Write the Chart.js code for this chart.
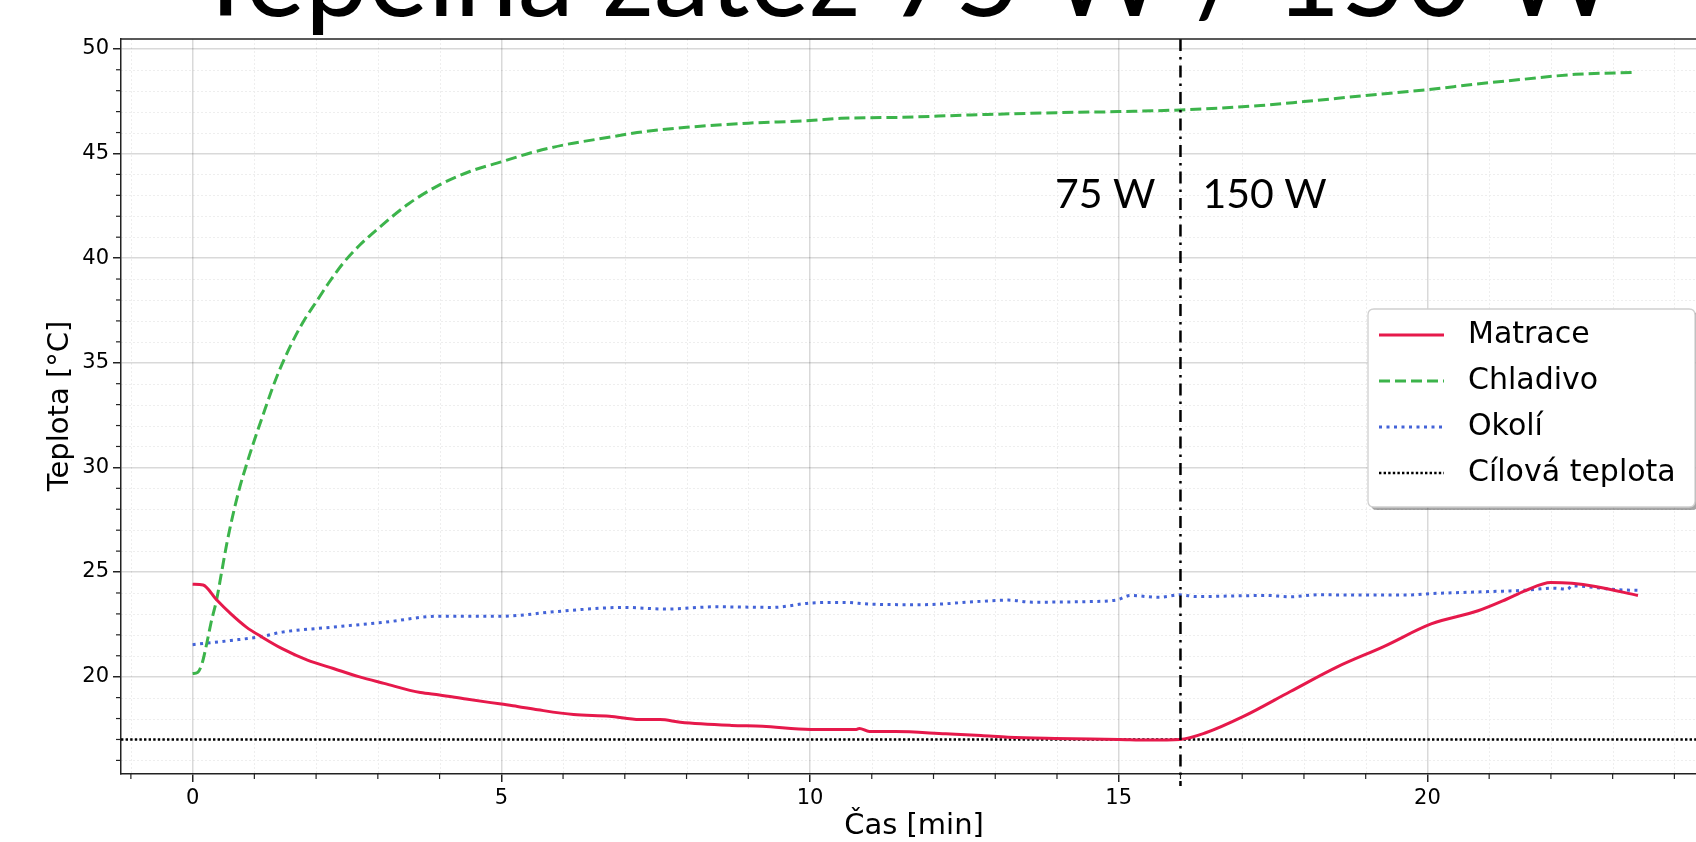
<!DOCTYPE html>
<html><head><meta charset="utf-8">
<script src="https://cdn.jsdelivr.net/npm/chart.js@4.4.1/dist/chart.umd.min.js"></script>
<style>html,body{margin:0;padding:0;background:#fff;overflow:hidden}canvas{display:block}</style>
</head><body>
<canvas id="c" width="1696" height="842"></canvas>
<script>
// ---------- data ----------
const matraceT = [0, 0.17, 0.38, 0.62, 0.87, 1.12, 1.45, 1.86, 2.28, 2.69, 3.1, 3.69, 4.0, 4.43, 5.0, 5.26, 5.59, 6.17, 6.75, 7.24, 7.57, 7.9, 8.73, 9.23, 10.01, 10.75, 10.8, 10.96, 11.38, 12.2, 12.77, 13.21, 13.97, 15.0, 15.49, 15.99, 16.41, 17.02, 17.78, 18.54, 19.3, 20.06, 20.82, 21.28, 21.58, 22.0, 22.34, 22.72, 23.41];
const matraceV = [24.42, 24.38, 23.7, 23.0, 22.37, 21.9, 21.34, 20.79, 20.39, 20.0, 19.68, 19.24, 19.13, 18.93, 18.69, 18.58, 18.42, 18.19, 18.11, 17.95, 17.95, 17.82, 17.67, 17.63, 17.48, 17.48, 17.53, 17.38, 17.38, 17.27, 17.19, 17.11, 17.05, 17.0, 16.97, 17.0, 17.32, 18.1, 19.29, 20.47, 21.45, 22.52, 23.15, 23.7, 24.1, 24.5, 24.46, 24.31, 23.88];

const chladivoT = [0, 0.08, 0.15, 0.23, 0.30, 0.39, 0.47, 0.55, 0.62, 0.75, 0.88, 1.00, 1.14, 1.27, 1.40, 1.60, 1.80, 2.00, 2.20, 2.45, 2.70, 3.00, 3.50, 4.00, 4.50, 5.00, 5.50, 6.00, 6.80, 7.20, 8.00, 9.00, 10.0, 10.5, 11.5, 12.6, 14.0, 15.0, 16.0, 17.3, 18.0, 19.0, 20.0, 20.8, 21.5, 22.4, 23.35];
const chladivoV = [20.15, 20.2, 20.6, 21.6, 22.6, 23.7, 25.0, 26.3, 27.3, 28.9, 30.2, 31.3, 32.5, 33.6, 34.6, 35.9, 37.0, 37.9, 38.8, 39.8, 40.6, 41.4, 42.6, 43.5, 44.15, 44.6, 45.05, 45.4, 45.8, 46.0, 46.25, 46.45, 46.57, 46.68, 46.73, 46.84, 46.95, 47.0, 47.08, 47.29, 47.48, 47.77, 48.05, 48.32, 48.53, 48.78, 48.87];

const okoliT = [0, 0.62, 1.12, 1.45, 2.28, 3.1, 4.0, 5.0, 5.92, 6.99, 7.66, 8.48, 9.39, 10.01, 10.55, 10.96, 11.79, 12.77, 13.21, 13.6, 14.35, 14.96, 15.19, 15.65, 15.99, 16.26, 17.4, 17.78, 18.23, 19.68, 20.06, 20.82, 21.58, 22.04, 22.27, 22.34, 23.1, 23.41];
const okoliV = [21.53, 21.73, 21.92, 22.13, 22.37, 22.6, 22.89, 22.89, 23.12, 23.31, 23.23, 23.34, 23.31, 23.52, 23.55, 23.47, 23.44, 23.6, 23.66, 23.56, 23.58, 23.66, 23.88, 23.79, 23.91, 23.83, 23.88, 23.82, 23.91, 23.9, 23.97, 24.05, 24.13, 24.23, 24.18, 24.34, 24.15, 24.13];

const cilovaTeplota = 17;
const zmenaVykonu = 16;           // min, switch 75 W -> 150 W
const xTicks = [0, 5, 10, 15, 20];
const yTicks = [20, 25, 30, 35, 40, 45, 50];
const seriesNames = ['Matrace', 'Chladivo', 'Okolí', 'Cílová teplota'];
const titleText = 'Tepelná zátěž 75 W / 150 W';
const leftNote = '75 W';
const rightNote = '150 W';
const xTitle = 'Čas [min]';
const yTitle = 'Teplota [°C]';

// ---------- axis limits ----------
const X_MIN = -1.16, X_MAX = 24.35;
const Y_MIN = 15.35, Y_MAX = 50.47;

const pts = (t, v) => t.map((x, i) => ({x: x, y: v[i]}));

const styles = [
  {color: '#e6194b', width: 3.0, dash: []},
  {color: '#3cb44b', width: 3.0, dash: [11, 5]},
  {color: '#4363d8', width: 3.0, dash: [3, 4.5]},
  {color: '#000000', width: 2.6, dash: [2.4, 2.2]}
];

const datasets = [
  {label: seriesNames[0], data: pts(matraceT, matraceV)},
  {label: seriesNames[1], data: pts(chladivoT, chladivoV)},
  {label: seriesNames[2], data: pts(okoliT, okoliV)},
  {label: seriesNames[3], data: pts([X_MIN, X_MAX], [cilovaTeplota, cilovaTeplota])}
].map((d, i) => Object.assign(d, {
  borderColor: styles[i].color,
  borderWidth: styles[i].width,
  borderDash: styles[i].dash,
  borderCapStyle: 'butt',
  borderJoinStyle: 'round',
  pointRadius: 0,
  cubicInterpolationMode: 'monotone',
  fill: false,
  showLine: true,
  order: i
}));

const SPINE = '#222222';

const overlay = {
  id: 'overlay',
  beforeDraw(chart) {
    const {ctx, chartArea: a, scales: {x, y}} = chart;
    ctx.save();
    // minor grid
    ctx.strokeStyle = '#eeeeee';
    ctx.lineWidth = 1;
    ctx.setLineDash([2, 2]);
    for (let v = Math.ceil(X_MIN); v <= X_MAX; v++) {
      if (v % 5 === 0) continue;
      const px = Math.round(x.getPixelForValue(v)) + 0.5;
      ctx.beginPath(); ctx.moveTo(px, a.top); ctx.lineTo(px, a.bottom); ctx.stroke();
    }
    for (let v = Math.ceil(Y_MIN); v <= Y_MAX; v++) {
      if (v % 5 === 0) continue;
      const py = Math.round(y.getPixelForValue(v)) + 0.5;
      ctx.beginPath(); ctx.moveTo(a.left, py); ctx.lineTo(a.right, py); ctx.stroke();
    }
    ctx.restore();
  },
  afterDatasetsDraw(chart) {
    const {ctx, chartArea: a, scales: {x, y}} = chart;
    ctx.save();
    // vertical dash-dot line at power switch
    const px = x.getPixelForValue(zmenaVykonu);
    ctx.strokeStyle = '#000';
    ctx.lineWidth = 2.5;
    ctx.setLineDash([12, 6, 2.5, 6]);
    ctx.beginPath(); ctx.moveTo(px, a.top); ctx.lineTo(px, a.bottom + 12); ctx.stroke();
    ctx.setLineDash([]);
    // annotations
    ctx.fillStyle = '#000';
    ctx.font = '41px Lato';
    ctx.textBaseline = 'alphabetic';
    ctx.textAlign = 'right';
    ctx.fillText(leftNote, px - 25, 208);
    ctx.textAlign = 'left';
    ctx.fillText(rightNote, px + 22, 208);
    ctx.restore();
  },
  afterDraw(chart) {
    const {ctx, chartArea: a, scales: {x, y}} = chart;
    ctx.save();
    // top spine
    ctx.strokeStyle = SPINE; ctx.lineWidth = 1.5;
    ctx.beginPath(); ctx.moveTo(a.left, a.top); ctx.lineTo(a.right, a.top); ctx.stroke();
    // minor ticks
    ctx.lineWidth = 1.2;
    for (let v = Math.ceil(X_MIN); v <= X_MAX; v++) {
      if (v % 5 === 0) continue;
      const p = x.getPixelForValue(v);
      ctx.beginPath(); ctx.moveTo(p, a.bottom); ctx.lineTo(p, a.bottom + 5); ctx.stroke();
    }
    for (let v = Math.ceil(Y_MIN); v <= Y_MAX; v++) {
      if (v % 5 === 0) continue;
      const p = y.getPixelForValue(v);
      ctx.beginPath(); ctx.moveTo(a.left, p); ctx.lineTo(a.left - 5, p); ctx.stroke();
    }
    // axis titles
    ctx.fillStyle = '#000';
    ctx.font = '29px "DejaVu Sans"';
    ctx.textAlign = 'center'; ctx.textBaseline = 'middle';
    ctx.fillText(xTitle, 914, 826);
    ctx.save();
    ctx.translate(60, 406); ctx.rotate(-Math.PI / 2);
    ctx.fillText(yTitle, 0, 0);
    ctx.restore();
    // title (cropped at top)
    let fs = 100;
    ctx.font = fs + 'px Lato';
    const w = ctx.measureText(titleText).width;
    fs = fs * 1425 / w;
    ctx.font = fs.toFixed(1) + 'px Lato';
    ctx.textAlign = 'center'; ctx.textBaseline = 'alphabetic';
    ctx.fillText(titleText, 905, 16);
    // legend
    const bx = 1368, by = 309, bw = 327, bh = 198;
    const rr = (X, Y, W, H, r) => {
      ctx.beginPath();
      ctx.moveTo(X + r, Y); ctx.lineTo(X + W - r, Y); ctx.quadraticCurveTo(X + W, Y, X + W, Y + r);
      ctx.lineTo(X + W, Y + H - r); ctx.quadraticCurveTo(X + W, Y + H, X + W - r, Y + H);
      ctx.lineTo(X + r, Y + H); ctx.quadraticCurveTo(X, Y + H, X, Y + H - r);
      ctx.lineTo(X, Y + r); ctx.quadraticCurveTo(X, Y, X + r, Y); ctx.closePath();
    };
    ctx.fillStyle = 'rgba(0,0,0,0.35)';
    rr(bx + 3, by + 3, bw, bh, 6); ctx.fill();
    ctx.fillStyle = '#ffffff';
    rr(bx, by, bw, bh, 6); ctx.fill();
    ctx.strokeStyle = '#d0d0d0'; ctx.lineWidth = 1.3;
    rr(bx, by, bw, bh, 6); ctx.stroke();
    chart.data.datasets.forEach((ds, i) => {
      const ry = 335 + i * 46;
      ctx.strokeStyle = ds.borderColor; ctx.lineWidth = ds.borderWidth;
      ctx.setLineDash(ds.borderDash); ctx.lineCap = 'butt';
      ctx.beginPath(); ctx.moveTo(1379, ry); ctx.lineTo(1444, ry); ctx.stroke();
      ctx.setLineDash([]);
      ctx.fillStyle = '#000';
      ctx.font = '30px "DejaVu Sans"';
      ctx.textAlign = 'left'; ctx.textBaseline = 'middle';
      ctx.fillText(ds.label, 1468, ry);
    });
    ctx.restore();
  }
};

new Chart(document.getElementById('c'), {
  type: 'scatter',
  data: {datasets},
  options: {
    responsive: false,
    devicePixelRatio: 1,
    animation: false,
    layout: {padding: {top: 39, right: 0, bottom: 0, left: 0}},
    plugins: {legend: {display: false}, tooltip: {enabled: false}},
    scales: {
      x: {
        type: 'linear', min: X_MIN, max: X_MAX,
        afterBuildTicks: s => { s.ticks = xTicks.map(v => ({value: v})); },
        afterFit: s => { s.height = 842 - 774; },
        grid: {color: 'rgba(0,0,0,0.15)', lineWidth: 1.5, drawTicks: true, tickLength: 8, tickColor: SPINE, tickWidth: 1.5},
        border: {display: true, color: SPINE, width: 1.5},
        ticks: {color: '#000', font: {family: 'DejaVu Sans', size: 21}, padding: 4, maxRotation: 0}
      },
      y: {
        type: 'linear', min: Y_MIN, max: Y_MAX,
        afterBuildTicks: s => { s.ticks = yTicks.map(v => ({value: v})); },
        afterFit: s => { s.width = 121; },
        grid: {color: 'rgba(0,0,0,0.15)', lineWidth: 1.5, drawTicks: true, tickLength: 8, tickColor: SPINE, tickWidth: 1.5},
        border: {display: true, color: SPINE, width: 1.5},
        ticks: {color: '#000', font: {family: 'DejaVu Sans', size: 21}, padding: 4}
      }
    }
  },
  plugins: [overlay]
});
</script>
</body></html>
